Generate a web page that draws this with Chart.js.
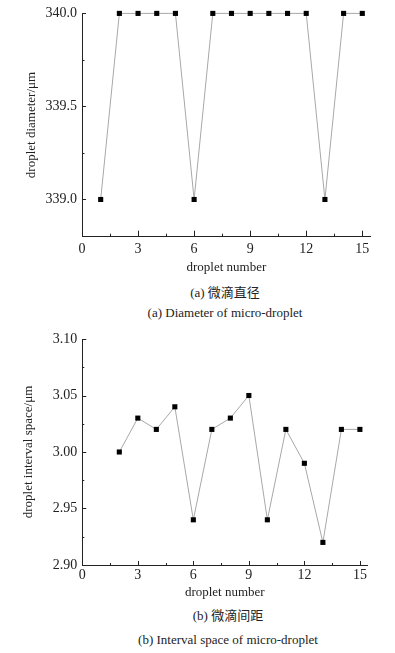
<!DOCTYPE html>
<html><head><meta charset="utf-8">
<script src="https://cdn.jsdelivr.net/npm/chart.js@4.4.1/dist/chart.umd.min.js"></script>
<style>
html,body{margin:0;padding:0;background:#fff;width:395px;height:653px;overflow:hidden;}
.wrap{position:absolute;left:0;width:395px;height:280px;}
.cap{position:absolute;font-family:'Liberation Serif','Noto Sans CJK SC',serif;font-size:13px;line-height:16px;color:#222;white-space:nowrap;transform:translateX(-50%);}
</style></head><body>
<div class="wrap" style="top:0"><canvas id="c1" width="395" height="280"></canvas></div>
<div class="wrap" style="top:325px"><canvas id="c2" width="395" height="280"></canvas></div>
<div class="cap" style="left:225px;top:285px">(a) 微滴直径</div>
<div class="cap" style="left:225px;top:305px">(a) Diameter of micro-droplet</div>
<div class="cap" style="left:228px;top:608px">(b) 微滴间距</div>
<div class="cap" style="left:228px;top:632px">(b) Interval space of micro-droplet</div>
<script>
// ---- data ----
const dropletNumbersA = [1,2,3,4,5,6,7,8,9,10,11,12,13,14,15];
const diameterValues = [339.0,340.0,340.0,340.0,340.0,339.0,340.0,340.0,340.0,340.0,340.0,340.0,339.0,340.0,340.0];
const dropletNumbersB = [2,3,4,5,6,7,8,9,10,11,12,13,14,15];
const intervalValues = [3.00,3.03,3.02,3.04,2.94,3.02,3.03,3.05,2.94,3.02,2.99,2.92,3.02,3.02];
const xTickValues = [0,3,6,9,12,15];
const diameterTicks = [339.0,339.5,340.0];
const intervalTicks = [2.90,2.95,3.00,3.05,3.10];
const xTitle = 'droplet number';
const yTitleA = 'droplet diameter/\u03bcm';
const yTitleB = 'droplet interval space/\u03bcm';

Chart.defaults.font.family = "'Liberation Serif','Times New Roman',serif";
Chart.defaults.color = '#222';

function midpoints(arr){const m=[];for(let i=0;i<arr.length-1;i++)m.push((arr[i]+arr[i+1])/2);return m;}

const inwardTicks = {
  id:'inwardTicks',
  afterDraw(chart, args, opts){
    const {ctx, chartArea:a, scales:{x,y}} = chart;
    ctx.save();
    ctx.strokeStyle = '#222'; ctx.lineWidth = 1;
    ctx.beginPath();
    const xt = opts.xTicks, yt = opts.yTicks;
    xt.forEach(v=>{const px=Math.round(x.getPixelForValue(v))+0.5;ctx.moveTo(px,a.bottom);ctx.lineTo(px,a.bottom-opts.major);});
    midpoints(xt).forEach(v=>{const px=Math.round(x.getPixelForValue(v))+0.5;ctx.moveTo(px,a.bottom);ctx.lineTo(px,a.bottom-opts.minor);});
    yt.forEach(v=>{const py=Math.round(y.getPixelForValue(v))+0.5;ctx.moveTo(a.left,py);ctx.lineTo(a.left+opts.majorY,py);});
    midpoints(yt).forEach(v=>{const py=Math.round(y.getPixelForValue(v))+0.5;ctx.moveTo(a.left,py);ctx.lineTo(a.left+opts.minorY,py);});
    ctx.stroke();
    ctx.restore();
  }
};

function makeChart(id, xs, ys, yTicks, cfg){
  return new Chart(document.getElementById(id), {
    type:'line',
    data:{datasets:[{
      data: xs.map((v,i)=>({x:v,y:ys[i]})),
      borderColor:'#a8a8a8', borderWidth:1,
      pointStyle:'rect', pointRadius:3.6, pointBackgroundColor:'#000', pointBorderWidth:0,
      clip:false, tension:0
    }]},
    options:{
      responsive:false, animation:false,
      layout:{padding:{top:cfg.top,right:cfg.right,left:0,bottom:0}},
      plugins:{legend:{display:false},tooltip:{enabled:false},
        inwardTicks:{xTicks:xTickValues,yTicks:yTicks,major:cfg.major,minor:cfg.minor,majorY:cfg.majorY,minorY:cfg.minorY}},
      scales:{
        x:{type:'linear',min:0,max:cfg.xmax,
          grid:{display:false,drawTicks:false},
          border:{display:true,color:'#222',width:1},
          ticks:{padding:cfg.xpad,font:{size:14},color:'#222'},
          afterBuildTicks:s=>{s.ticks=xTickValues.map(v=>({value:v}));},
          afterFit:s=>{s.height=cfg.xh;},
          title:{display:true,text:xTitle,font:{size:13},color:'#222',padding:{top:0,bottom:4.2}}
        },
        y:{type:'linear',min:cfg.ymin,max:cfg.ymax,
          grid:{display:false,drawTicks:false},
          border:{display:true,color:'#222',width:1},
          ticks:{padding:5,font:{size:14},color:'#222',callback:v=>Number(v).toFixed(cfg.dec)},
          afterBuildTicks:s=>{s.ticks=yTicks.map(v=>({value:v}));},
          afterFit:s=>{s.width=cfg.yw;},
          title:{display:true,text:cfg.ytitle,font:{size:13},color:'#222',padding:{top:cfg.ytp,bottom:0}}
        }
      }
    },
    plugins:[inwardTicks]
  });
}

makeChart('c1', dropletNumbersA, diameterValues, diameterTicks,
  {top:10.3,right:24.3,xmax:15.45,ymin:338.8,ymax:340.0,xh:43.3,yw:82,xpad:4,dec:1,ytitle:yTitleA,ytp:24,major:6,minor:3,majorY:4,minorY:2.5});
makeChart('c2', dropletNumbersB, intervalValues, intervalTicks,
  {top:14,right:27.7,xmax:15.4,ymin:2.90,ymax:3.10,xh:40,yw:82.3,xpad:2,dec:2,ytitle:yTitleB,ytp:20.5,major:4,minor:2,majorY:4,minorY:2});
</script>
</body></html>
